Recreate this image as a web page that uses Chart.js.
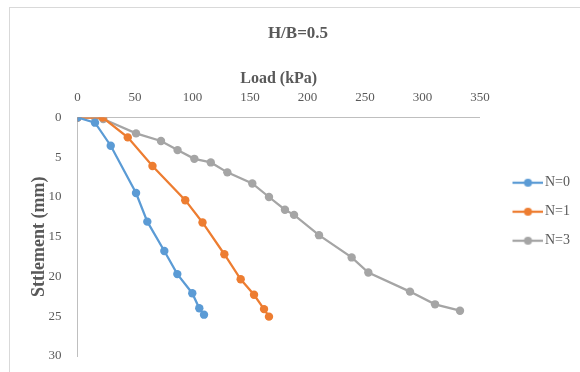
<!DOCTYPE html>
<html>
<head>
<meta charset="utf-8">
<script src="https://cdn.jsdelivr.net/npm/chart.js@4/dist/chart.umd.min.js"></script>
<style>
	body { margin: 0; background: #fff; }
	#wrap { position: relative; width: 580px; height: 372px; overflow: hidden; }
	#frame { position: absolute; left: 9px; top: 7px; width: 620px; height: 420px; border: 1px solid #d9d9d9; }
	#myChart { position: absolute; left: 0; top: 0; }
</style>
</head>
<body>
<div id="wrap">
	<div id="frame"></div>
	<canvas id="myChart" width="580" height="372"></canvas>
</div>
<script>
// 하중 (kPa) / 침하량 (mm) 데이터
var loadN0 = [0, 15.2, 28.9, 50.9, 60.7, 75.5, 86.8, 99.8, 105.9, 110.0];
var settleN0 = [0, 0.65, 3.55, 9.5, 13.1, 16.8, 19.7, 22.1, 24.0, 24.8];

var loadN1 = [0, 21.9, 43.7, 65.2, 93.7, 108.7, 127.7, 141.9, 153.5, 162.2, 166.5];
var settleN1 = [0, 0, 2.5, 6.1, 10.4, 13.2, 17.2, 20.35, 22.3, 24.1, 25.05];

var loadN3 = [0, 15.2, 22.4, 50.9, 72.6, 87.0, 101.6, 115.9, 130.3, 152.0, 166.5, 180.4, 188.3, 210.0, 238.4, 252.9, 289.1, 310.9, 332.6];
var settleN3 = [0, 0, 0.2, 2.0, 2.95, 4.1, 5.2, 5.65, 6.9, 8.3, 10.0, 11.6, 12.25, 14.8, 17.6, 19.5, 21.9, 23.5, 24.3];

var seriesNames = ["N=0", "N=1", "N=3"];
var seriesColors = ["#5B9BD5", "#ED7D31", "#A5A5A5"];

var xTicks = [0, 50, 100, 150, 200, 250, 300, 350];
var yTicks = [0, 5, 10, 15, 20, 25, 30];

var chartTitle = "H/B=0.5";
var xTitle = "Load (kPa)";
var yTitle = "Sttlement (mm)";

var serif = "'Liberation Serif', 'Times New Roman', serif";
var textColor = "#595959";

// x, y 배열을 점 목록으로 합치기
function toPoints(xs, ys) {
	var pts = [];
	for (var i = 0; i < xs.length; i++) {
		pts.push({ x: xs[i], y: ys[i] });
	}
	return pts;
}

// 범례 아이콘 (선 + 원 마커)
function makeLegendIcon(color) {
	var c = document.createElement("canvas");
	c.width = 54;
	c.height = 10;
	var g = c.getContext("2d");
	g.strokeStyle = color;
	g.lineWidth = 2.25;
	g.beginPath();
	g.moveTo(23, 5);
	g.lineTo(54, 5);
	g.stroke();
	g.fillStyle = color;
	g.beginPath();
	g.arc(38.5, 5, 4, 0, Math.PI * 2);
	g.fill();
	return c;
}

var legendIcons = seriesColors.map(makeLegendIcon);

function makeDataset(i, xs, ys) {
	return {
		label: seriesNames[i],
		data: toPoints(xs, ys),
		borderColor: seriesColors[i],
		backgroundColor: seriesColors[i],
		borderWidth: 2.25,
		pointRadius: 4.2,
		pointHoverRadius: 4.2,
		pointBorderWidth: 0,
		tension: 0,
		fill: false
	};
}

var ctx = document.getElementById("myChart").getContext("2d");
window.myChart = new Chart(ctx, {
	type: "line",
	data: {
		datasets: [
			makeDataset(0, loadN0, settleN0),
			makeDataset(1, loadN1, settleN1),
			makeDataset(2, loadN3, settleN3)
		]
	},
	options: {
		responsive: false,
		animation: false,
		devicePixelRatio: 1,
		layout: {
			padding: { left: 16, right: 0, top: 0, bottom: 16 }
		},
		plugins: {
			title: {
				display: true,
				text: chartTitle,
				color: textColor,
				font: { family: serif, size: 17, weight: "bold" },
				padding: { top: 23, bottom: 6 }
			},
			legend: {
				display: true,
				position: "right",
				align: "center",
				title: {
					display: true,
					text: " ",
					font: { size: 12 },
					padding: 26.5
				},
				labels: {
					usePointStyle: true,
					pointStyleWidth: 43,
					padding: 15,
					color: textColor,
					font: { family: serif, size: 14 },
					generateLabels: function(chart) {
						var items = Chart.defaults.plugins.legend.labels.generateLabels(chart);
						items.forEach(function(item, i) {
							item.pointStyle = legendIcons[i];
						});
						return items;
					}
				}
			},
			tooltip: { enabled: false }
		},
		scales: {
			x: {
				type: "linear",
				position: "top",
				min: 0,
				max: 350,
				afterFit: function(scale) {
					scale.height = 68.1;
				},
				afterBuildTicks: function(scale) {
					scale.ticks = xTicks.map(function(v) { return { value: v }; });
				},
				grid: { display: false, drawTicks: false },
				border: { display: true, color: "#BFBFBF", width: 1 },
				ticks: {
					color: textColor,
					padding: 12,
					font: { family: serif, size: 13 }
				},
				title: {
					display: true,
					text: xTitle,
					color: textColor,
					font: { family: serif, size: 16, weight: "bold" },
					padding: { top: 19.5, bottom: 0 }
				}
			},
			y: {
				type: "linear",
				reverse: true,
				min: 0,
				max: 30,
				afterFit: function(scale) {
					scale.width = 61.5;
					// 아래쪽 여백은 layout padding 으로만 결정
					scale.paddingTop = 0;
					scale.paddingBottom = 0;
				},
				afterBuildTicks: function(scale) {
					scale.ticks = yTicks.map(function(v) { return { value: v }; });
				},
				grid: { display: false, drawTicks: false },
				border: { display: true, color: "#BFBFBF", width: 1 },
				ticks: {
					color: textColor,
					padding: 16,
					font: { family: serif, size: 13 }
				},
				title: {
					display: true,
					text: yTitle,
					color: textColor,
					font: { family: serif, size: 18, weight: "bold" },
					padding: { top: 13, bottom: 0 }
				}
			}
		}
	}
});
</script>
</body>
</html>
